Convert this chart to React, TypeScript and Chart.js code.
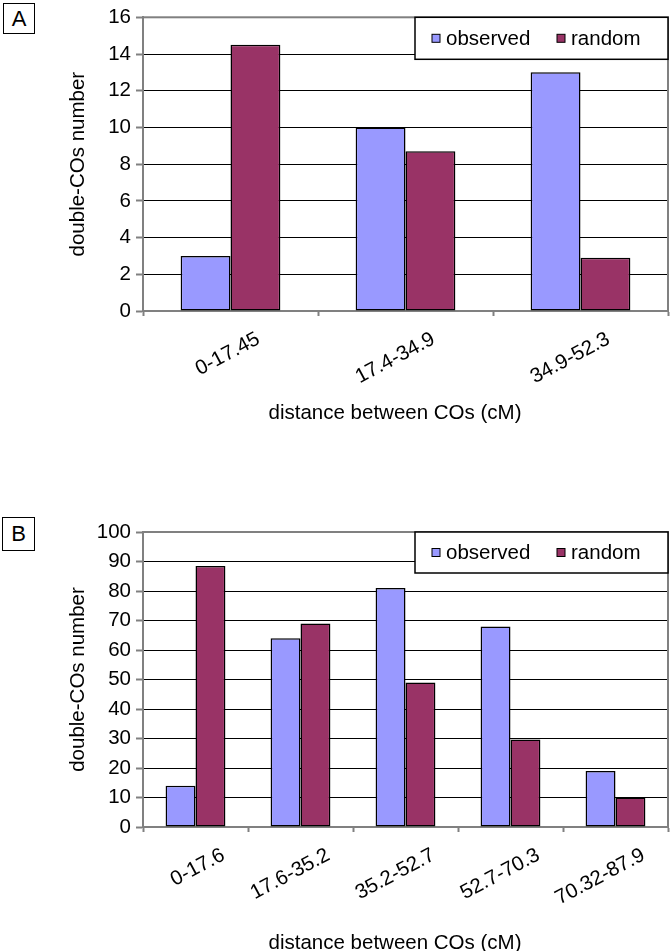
import React, { useEffect, useRef } from "react";
import { Chart, registerables } from "chart.js";

Chart.register(...registerables);

// ---- data ----
const seriesNames = ["observed", "random"];
const yTitle = "double-COs number";
const xTitle = "distance between COs (cM)";

const categoriesA = ["0-17.45", "17.4-34.9", "34.9-52.3"];
const observedA = [3, 10, 13];
const randomA = [14.5, 8.7, 2.9];
const yMaxA = 16;
const yStepA = 2;

const categoriesB = ["0-17.6", "17.6-35.2", "35.2-52.7", "52.7-70.3", "70.32-87.9"];
const observedB = [14, 64, 81, 68, 19];
const randomB = [88.5, 69, 49, 29.7, 10];
const yMaxB = 100;
const yStepB = 10;

const FONT = "'Liberation Sans', Arial, Helvetica, sans-serif";
const FS = 20.5;
const GRAY = "#808080";
const COLORS = ["#9999FF", "#993366"];

type PanelProps = {
  categories: string[];
  observed: number[];
  random: number[];
  yMax: number;
  yStep: number;
  width: number;
  height: number;
  areaTop: number;
  areaBottom: number;
  xTitleY: number;
  legendH: number;
};

function Panel(p: PanelProps) {
  const ref = useRef<HTMLCanvasElement | null>(null);
  useEffect(() => {
    if (!ref.current) return;
    const framePlugin = {
      id: "frame",
      beforeDatasetsDraw(chart: any) {
        const { ctx, chartArea } = chart;
        ctx.save();
        ctx.strokeStyle = GRAY;
        ctx.lineWidth = 2;
        ctx.strokeRect(chartArea.left, chartArea.top, chartArea.right - chartArea.left, chartArea.bottom - chartArea.top);
        ctx.restore();
      },
    };
    const legendPlugin = {
      id: "boxLegend",
      afterDatasetsDraw(chart: any) {
        const { ctx, chartArea } = chart;
        const x0 = 415;
        const x1 = chartArea.right;
        const y0 = chartArea.top;
        const y1 = chartArea.top + p.legendH;
        ctx.save();
        ctx.fillStyle = "#ffffff";
        ctx.fillRect(x0, y0, x1 - x0, y1 - y0);
        ctx.strokeStyle = "#000000";
        ctx.lineWidth = 1.5;
        ctx.strokeRect(x0, y0, x1 - x0, y1 - y0);
        const cy = (y0 + y1) / 2;
        chart.data.datasets.forEach((ds: any, i: number) => {
          const sx = x0 + 17 + i * 125;
          ctx.fillStyle = ds.backgroundColor;
          ctx.fillRect(sx, cy - 4, 8, 8);
          ctx.strokeStyle = "#000";
          ctx.lineWidth = 1;
          ctx.strokeRect(sx, cy - 4, 8, 8);
          ctx.fillStyle = "#000";
          ctx.font = `${FS}px ${FONT}`;
          ctx.textBaseline = "middle";
          ctx.textAlign = "left";
          ctx.fillText(ds.label, sx + 14, cy + 1);
        });
        ctx.restore();
      },
    };
    const xTitlePlugin = {
      id: "xTitle",
      afterDraw(chart: any) {
        const { ctx } = chart;
        ctx.save();
        ctx.fillStyle = "#000";
        ctx.font = `${FS}px ${FONT}`;
        ctx.textAlign = "center";
        ctx.textBaseline = "middle";
        ctx.fillText(xTitle, 395, p.xTitleY);
        ctx.restore();
      },
    };
    const chart = new Chart(ref.current, {
      type: "bar",
      data: {
        labels: p.categories,
        datasets: [
          {
            label: seriesNames[0],
            data: p.observed,
            backgroundColor: COLORS[0],
            borderColor: "#000",
            borderWidth: 1.5,
            borderSkipped: false,
            barPercentage: 1,
            categoryPercentage: 0.57,
          },
          {
            label: seriesNames[1],
            data: p.random,
            backgroundColor: COLORS[1],
            borderColor: "#000",
            borderWidth: 1.5,
            borderSkipped: false,
            barPercentage: 1,
            categoryPercentage: 0.57,
          },
        ],
      },
      options: {
        responsive: false,
        animation: false,
        layout: { padding: { top: p.areaTop, right: 2, left: 0, bottom: 0 } },
        plugins: { legend: { display: false }, tooltip: { enabled: false } },
        scales: {
          x: {
            grid: {
              offset: true,
              drawOnChartArea: false,
              drawTicks: true,
              tickLength: 5,
              tickColor: GRAY,
              tickWidth: 2,
            },
            border: { display: true, color: GRAY, width: 2 },
            ticks: {
              color: "#000",
              font: { family: FONT, size: FS },
              minRotation: 28,
              maxRotation: 28,
              autoSkip: false,
              labelOffset: 28,
              padding: 11,
            },
            afterFit: (s: any) => {
              s.height = p.height - p.areaBottom;
            },
          },
          y: {
            min: 0,
            max: p.yMax,
            grid: {
              color: "#000",
              lineWidth: 1,
              drawTicks: true,
              tickLength: 7,
              tickColor: GRAY,
              tickWidth: 2,
            },
            border: { display: true, color: GRAY, width: 2 },
            ticks: {
              stepSize: p.yStep,
              color: "#000",
              font: { family: FONT, size: FS },
              padding: 5,
            },
            title: {
              display: true,
              text: yTitle,
              color: "#000",
              font: { family: FONT, size: FS },
              padding: { top: 66, bottom: 0 },
            },
            afterFit: (s: any) => {
              s.width = 143;
            },
          },
        },
      } as any,
      plugins: [framePlugin, legendPlugin, xTitlePlugin],
    });
    return () => chart.destroy();
  }, []);
  return <canvas ref={ref} width={p.width} height={p.height} style={{ display: "block" }} />;
}

const boxStyle = (left: number, top: number, w: number, h: number): React.CSSProperties => ({
  position: "absolute",
  left,
  top,
  width: w,
  height: h,
  boxSizing: "border-box",
  border: "1.3px solid #000",
  fontFamily: FONT,
  fontSize: 22,
  lineHeight: `${h - 2}px`,
  textAlign: "center",
  background: "#fff",
});

export default function App() {
  return (
    <div style={{ position: "absolute", left: 0, top: 0, width: 670, height: 951, overflow: "hidden", background: "#fff" }}>
      <div style={{ position: "absolute", left: 0, top: 0 }}>
        <Panel
          categories={categoriesA}
          observed={observedA}
          random={randomA}
          yMax={yMaxA}
          yStep={yStepA}
          width={670}
          height={440}
          areaTop={15}
          areaBottom={311}
          xTitleY={413}
          legendH={42}
        />
      </div>
      <div style={{ position: "absolute", left: 0, top: 440 }}>
        <Panel
          categories={categoriesB}
          observed={observedB}
          random={randomB}
          yMax={yMaxB}
          yStep={yStepB}
          width={670}
          height={530}
          areaTop={92}
          areaBottom={387}
          xTitleY={503}
          legendH={41}
        />
      </div>
      <div style={boxStyle(3, 3, 32, 31)}>A</div>
      <div style={boxStyle(2, 517, 33, 34)}>B</div>
    </div>
  );
}
